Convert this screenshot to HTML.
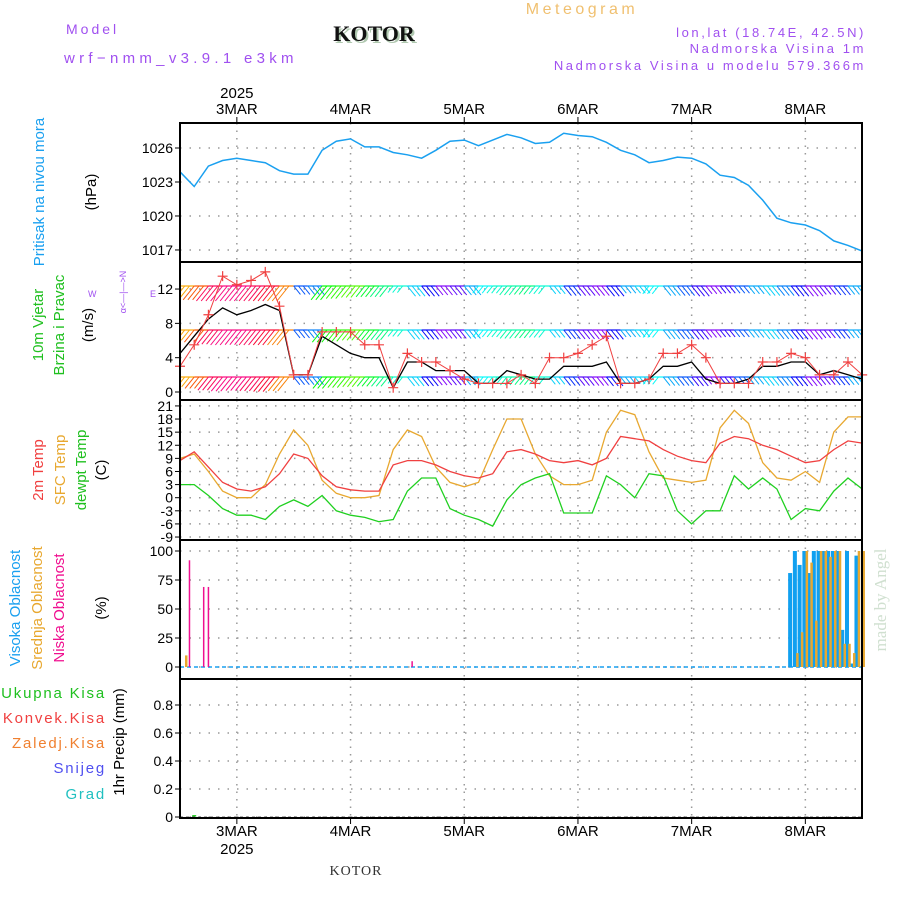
<!DOCTYPE html>
<html><head><meta charset="utf-8"><style>
body{margin:0;background:#fff;}
svg{display:block;font-family:"Liberation Sans",sans-serif;}
</style></head><body>
<svg id="chart" width="900" height="900" viewBox="0 0 900 900">
<text x="66" y="34" font-size="14" fill="#a050f0" letter-spacing="3">Model</text>
<text x="64" y="63" font-size="15" fill="#a050f0" letter-spacing="4.3">wrf−nmm_v3.9.1 e3km</text>
<text x="376" y="43" font-size="22" font-weight="bold" font-family="Liberation Serif, serif" fill="#b0c8b0" text-anchor="middle">KOTOR</text>
<text x="374" y="41" font-size="22" font-weight="bold" font-family="Liberation Serif, serif" fill="#111" text-anchor="middle">KOTOR</text>
<text x="582" y="14" font-size="16" fill="#f0c070" letter-spacing="3.5" text-anchor="middle">Meteogram</text>
<text x="866" y="37" font-size="13" fill="#a050f0" letter-spacing="2.6" text-anchor="end">lon,lat (18.74E, 42.5N)</text>
<text x="866" y="53" font-size="13" fill="#a050f0" letter-spacing="2.6" text-anchor="end">Nadmorska Visina 1m</text>
<text x="866" y="70" font-size="13" fill="#a050f0" letter-spacing="2.6" text-anchor="end">Nadmorska Visina u modelu 579.366m</text>
<text x="356" y="875" font-size="14" font-family="Liberation Serif, serif" fill="#333" letter-spacing="1" text-anchor="middle">KOTOR</text>
<text transform="translate(886,600) rotate(-90)" font-size="17" font-family="Liberation Serif, serif" fill="#d0e0d0" text-anchor="middle">made by Angel</text>
<g id="layer"></g>
</svg>
<script>
const dayHours=[12,36,60,84,108,132];
const dayLabels=["3MAR","4MAR","5MAR","6MAR","7MAR","8MAR"];
const hours3=[0,3,6,9,12,15,18,21,24,27,30,33,36,39,42,45,48,51,54,57,60,63,66,69,72,75,78,81,84,87,90,93,96,99,102,105,108,111,114,117,120,123,126,129,132,135,138,141,144];
const pressure=[1023.9,1022.6,1024.4,1024.9,1025.1,1024.9,1024.7,1024.0,1023.7,1023.7,1025.8,1026.6,1026.8,1026.1,1026.1,1025.6,1025.4,1025.1,1025.8,1026.6,1026.7,1026.2,1026.7,1027.2,1026.9,1026.4,1026.5,1027.3,1027.1,1027.0,1026.5,1025.8,1025.4,1024.7,1024.9,1025.2,1025.1,1024.6,1023.6,1023.4,1022.7,1021.4,1019.8,1019.4,1019.2,1018.7,1017.8,1017.4,1016.9];
const windSpeed=[4.5,6.5,8.5,9.8,9,9.5,10.2,9.5,2,2,6.5,5.5,4.5,4,4,0.5,3.5,3.5,2.5,2.5,2.5,1,1,2.5,2,1.5,1.5,3,3,3,3.5,1,1,1.5,3,3,3.5,1.5,1,1,1.5,3,3,3.5,3.5,2,2.5,2,1.5];
const windGust=[3,5.5,9,13.5,12.5,13,14,10,2,2,7,7,7,5.5,5.5,0.5,4.5,3.5,3.5,2.5,1.5,1,1,1,2,1,4,4,4.5,5.5,6.5,1,1,1.5,4.5,4.5,5.5,4,1,1,1,3.5,3.5,4.5,4,2,2,3.5,2];
const windHue=[40,20,340,330,330,340,350,30,220,210,120,110,100,130,150,170,190,240,270,260,200,180,170,160,150,170,190,230,260,270,240,200,190,180,200,220,250,270,250,220,200,190,210,240,270,260,230,200,190];
const temp2m=[8.5,10.5,7,3.5,2,1.5,2.5,5.5,10,9,5,2.5,1.8,1.5,1.5,7.5,8.5,8.5,7.5,6,5,4.5,5.5,10.5,11,10,8.5,8,8.5,7.5,9,14,13.5,13,11,9.5,8.5,8,12.5,14,13.5,12,11,9.5,8,8.5,11,13,12.5];
const tempSfc=[9,10,6,1.5,0,0,3,10,15.5,12,4,1,0,0,0.5,11,15.5,14,7,3.5,2.5,3.5,11,18,18,10,5,3,3,4,15,20,19,10.5,4.5,4,3.5,4,16,20,17,8,4.5,4,6,3.5,15,18.5,18.5];
const tempDew=[3,3,0.5,-2.5,-4,-4,-5,-2,-0.5,-2,0.5,-3,-4,-4.5,-5.5,-5,1.5,4.5,4.5,-2.5,-4,-5,-6.5,-0.5,3,4.5,5.5,-3.5,-3.5,-3.5,5,3,0,5.5,5,-3,-6,-3,-3,5,2,4.5,2,-5,-2.5,-3,1.5,4.5,2];
const lowCloudHours=[2,5,6,49];
const lowCloudVals=[92,69,69,5];
const midCloudHours=[1,130,131,132,133,134,135,136,137,138,139,140,141,142,143,144];
const midCloudVals=[10,12,30,100,90,40,100,100,95,100,100,20,20,12,100,100];
const highCloudHours=[129,130,131,132,133,134,135,136,137,138,139,140,141,142,143];
const highCloudVals=[81,100,88,100,81,100,100,100,100,100,100,32,100,3,96];
const precipHours=[3];
const precipVals=[0.003];
const pTicks=[1017,1020,1023,1026];
const wTicks=[0,4,8,12];
const tTicks=[-9,-6,-3,0,3,6,9,12,15,18,21];
const cTicks=[0,25,50,75,100];
const rTicks=[0,0.2,0.4,0.6,0.8];

const X0=180,X1=862;
const X=h=>X0+h*4.7375;
const P=v=>148+(1026-v)*11.33;
const W=v=>392-v*8.58;
const T=v=>497.7-v*4.37;
const C=v=>667-v*1.16;
const R=v=>817-v*140;
const panels=[[123,262],[262,400],[400,540],[540,679],[679,818]];
const NS="http://www.w3.org/2000/svg";
const layer=document.getElementById('layer');
function mk(tag,attrs,parent){const e=document.createElementNS(NS,tag);for(const k in attrs)e.setAttribute(k,attrs[k]);(parent||layer).appendChild(e);return e;}

panels.forEach((p,i)=>{
  dayHours.forEach(h=>{
    const l=mk('line',{x1:X(h),x2:X(h),y1:p[0],y2:p[1],stroke:'#999','stroke-width':1.5,'stroke-dasharray':'1.5,6'});
    
    
  });
});
function hgrid(ticks,f,fmt,name){
  ticks.forEach(v=>{
    const y=f(v);
    const l=mk('line',{x1:X0,x2:X1,y1:y,y2:y,stroke:'#999','stroke-width':1.5,'stroke-dasharray':'1.5,8'});
    
    
    mk('line',{x1:X0-5,x2:X0,y1:y,y2:y,stroke:'#000','stroke-width':1});
    const t=mk('text',{x:X0-7,y:y+5,'font-size':14,'text-anchor':'end',fill:'#000'});
    t.textContent=fmt(v);
    
    
  });
}
hgrid(pTicks,P,v=>v,'pressure');
hgrid(wTicks,W,v=>v,'wind');
hgrid(tTicks,T,v=>v,'temp');
hgrid(cTicks,C,v=>v,'cloud');
hgrid(rTicks,R,v=>v===0?'0':v.toFixed(1),'precip');

function line(hs,vals,f,color,name,w){
  const d=hs.map((h,i)=>(i?'L':'M')+X(h).toFixed(1)+','+f(vals[i]).toFixed(1)).join('');
  const e=mk('path',{d:d,fill:'none',stroke:color,'stroke-width':w||1.3});
  
  
  return e;
}
line(hours3,pressure,P,'#1aa0f0','pressure-line',1.5);

const bands=[[286,1.0],[330,0.8],[377,0.7]];
const clip=mk('clipPath',{id:'wclip'});mk('rect',{x:X0,y:262,width:X1-X0,height:138},clip);
const wg=mk('g',{'clip-path':'url(#wclip)'});


bands.forEach((b,bi)=>{
  for(let i=0;i<hours3.length;i++){
    const hue=windHue[i];
    const col='hsl('+hue+',95%,50%)';
    for(let k=0;k<3;k++){
      const h=hours3[i]+k;if(h>144)break;
      const x=X(h);
      const len=Math.min(20,8+windSpeed[i]*1.6*b[1]);
      const dir=(hue>180&&hue<300)?-1:1;
      mk('line',{x1:x,y1:b[0],x2:x-len*0.6*dir,y2:b[0]+len*0.75,stroke:col,'stroke-width':1},wg);
    }
    mk('line',{x1:X(hours3[i]),y1:b[0],x2:X(hours3[i])+14.2,y2:b[0],stroke:col,'stroke-width':1.2},wg);
  }
});
line(hours3,windSpeed,W,'#000','wind-speed-line',1.3);
line(hours3,windGust,W,'#f04040','wind-gust-line',1);
hours3.forEach((h,i)=>{
  const x=X(h),y=W(windGust[i]);
  const g=mk('path',{d:`M${x-5},${y}H${x+5}M${x},${y-5}V${y+5}`,stroke:'#f04040','stroke-width':1.2});
  
  
});

line(hours3,tempSfc,T,'#e8a830','sfc-temp-line',1.3);
line(hours3,temp2m,T,'#f04040','temp-2m-line',1.3);
line(hours3,tempDew,T,'#20d020','dewpoint-line',1.3);

function bars(hs,vals,color,off,w,name){
  hs.forEach((h,i)=>{
    const x=X(h)+off,y=C(vals[i]);
    const r=mk('rect',{x:x-w/2,y:y,width:w,height:C(0)-y,fill:color});
    
    
  });
}
mk('line',{x1:X0,x2:X1,y1:C(0),y2:C(0),stroke:'#1aa0f0','stroke-width':1.5,'stroke-dasharray':'4,3'});
bars(highCloudHours,highCloudVals,'#10a0f0',-1,4,'high-cloud-bar');
bars(midCloudHours,midCloudVals,'#e8a830',1.5,2.5,'mid-cloud-bar');
bars(lowCloudHours,lowCloudVals,'#f01090',0,1.5,'low-cloud-bar');

precipHours.forEach((h,i)=>{
  const r=mk('rect',{x:X(h)-2,y:R(precipVals[i])-1.5,width:4,height:1.5,fill:'#20d020'});
  
  
});
mk('line',{x1:X0,x2:X1,y1:817,y2:817,stroke:'#666','stroke-width':1,'stroke-dasharray':'3,3'});

panels.forEach((p,i)=>{
  const r=mk('rect',{x:X0,y:p[0],width:X1-X0,height:p[1]-p[0],fill:'none',stroke:'#000','stroke-width':2});
  
  
});
dayHours.forEach((h,i)=>{
  const x=X(h);
  mk('line',{x1:x,x2:x,y1:117,y2:123,stroke:'#000'});
  mk('line',{x1:x,x2:x,y1:818,y2:824,stroke:'#000'});
  const t=mk('text',{x:x,y:114,'font-size':15,'text-anchor':'middle'});t.textContent=dayLabels[i];
  
  
  const b=mk('text',{x:x,y:836,'font-size':15,'text-anchor':'middle'});b.textContent=dayLabels[i];
  
  
});
const y1=mk('text',{x:X(12),y:98,'font-size':15,'text-anchor':'middle'});y1.textContent='2025';


const y2=mk('text',{x:X(12),y:854,'font-size':15,'text-anchor':'middle'});y2.textContent='2025';



function rlab(x,y,txt,col,name,fs){
  const t=mk('text',{transform:`translate(${x},${y}) rotate(-90)`,'font-size':fs||15,fill:col,'text-anchor':'middle'});
  t.textContent=txt;
  
  
}
rlab(44,192,'Pritisak na nivou mora','#1aa0f0','pressure-axis-title');
rlab(96,192,'(hPa)','#000','pressure-unit');
rlab(43,325,'10m Vjetar','#20c020','wind-axis-title');
rlab(64,325,'Brzina i Pravac','#20c020','wind-axis-subtitle');
rlab(93,325,'(m/s)','#000','wind-unit');
rlab(43,470,'2m Temp','#f04040','temp2m-axis-title');
rlab(65,470,'SFC Temp','#e8a830','sfc-temp-axis-title');
rlab(86,470,'dewpt Temp','#20c020','dewpoint-axis-title');
rlab(106,470,'(C)','#000','temp-unit');
rlab(20,608,'Visoka Oblacnost','#1aa0f0','high-cloud-title');
rlab(42,608,'Srednja Oblacnost','#e8a830','mid-cloud-title');
rlab(64,608,'Niska Oblacnost','#f01090','low-cloud-title');
rlab(106,608,'(%)','#000','cloud-unit');
rlab(124,742,'1hr Precip (mm)','#000','precip-axis-title');
const compass=mk('text',{transform:'translate(126,292) rotate(-90)','font-size':9,fill:'#a050f0','text-anchor':'middle'});
compass.textContent='α<—|—>N';


const cw=mk('text',{x:88,y:297,'font-size':9,fill:'#a050f0'});cw.textContent='W';


const ce=mk('text',{x:150,y:297,'font-size':9,fill:'#a050f0'});ce.textContent='E';


[['Ukupna Kisa','#20c020',698],['Konvek.Kisa','#f04040',723],['Zaledj.Kisa','#f08030',748],['Snijeg','#5050f0',773],['Grad','#20c0c0',799]].forEach(a=>{
  const t=mk('text',{x:106,y:a[2],'font-size':15,fill:a[1],'text-anchor':'end','letter-spacing':1.8});
  t.textContent=a[0];
  
  
});
</script>
</body></html>
